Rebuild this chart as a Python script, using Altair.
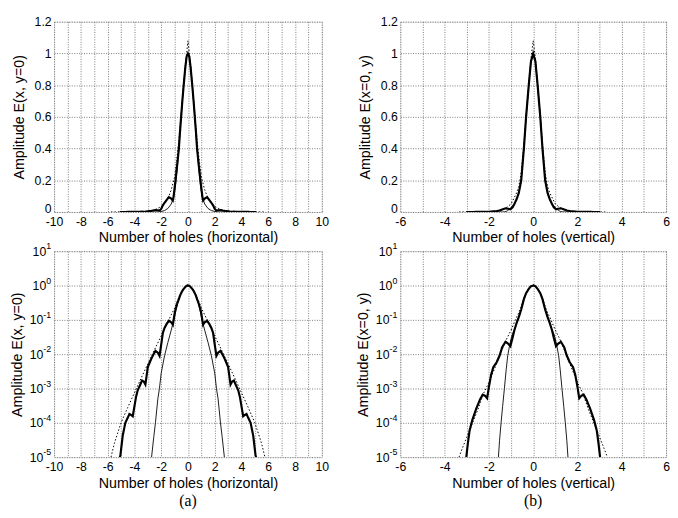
import altair as alt
import pandas as pd

SANS = "Liberation Sans"
SERIF = "Liberation Serif"

# ---------------- panel (a): horizontal cut ----------------
a_thick_x = [-5.1, -5.05, -4.875, -4.68, -4.5, -4.375, -4.25, -4.125, -3.875, -3.75, -3.6, -3.43, -3.3, -3.18,
             -3.0, -2.75, -2.6, -2.43, -2.25, -2.125, -2.0, -1.875, -1.75, -1.6, -1.43, -1.25, -1.13, -1.07,
             -1.0, -0.93, -0.8, -0.68, -0.6, -0.51, -0.42, -0.32, -0.2, -0.1, 0, 0.1, 0.2, 0.32, 0.42, 0.51,
             0.6, 0.68, 0.8, 0.93, 1.0, 1.07, 1.13, 1.25, 1.43, 1.6, 1.75, 1.875, 2.0, 2.125, 2.25, 2.43, 2.6,
             2.75, 3.0, 3.18, 3.3, 3.43, 3.6, 3.75, 3.875, 4.125, 4.25, 4.375, 4.5, 4.68, 4.875, 5.05, 5.1]
a_thick_y = [0.00001, 0.000011, 0.000042, 0.0001, 0.00014, 0.00018, 0.00017, 0.000155, 0.00058, 0.0009, 0.0012,
             0.0017, 0.0016, 0.0013, 0.0042, 0.0072, 0.0095, 0.0125, 0.011, 0.0089, 0.019, 0.042, 0.058, 0.075,
             0.094, 0.085, 0.072, 0.1, 0.15, 0.2, 0.3, 0.4, 0.5, 0.6, 0.7, 0.8, 0.91, 0.98, 1.0, 0.98, 0.91, 0.8,
             0.7, 0.6, 0.5, 0.4, 0.3, 0.2, 0.15, 0.1, 0.072, 0.085, 0.094, 0.075, 0.058, 0.042, 0.019, 0.0089,
             0.011, 0.0125, 0.0095, 0.0072, 0.0042, 0.0013, 0.0016, 0.0017, 0.0012, 0.0009, 0.00058, 0.000155,
             0.00017, 0.00018, 0.00014, 0.0001, 0.000042, 0.000011, 0.00001]

a_thin_x = [-2.72, -2.55, -2.43, -2.25, -2.13, -2.0, -1.75, -1.5, -1.25, -1.05, -0.93, -0.8, -0.68, -0.51, -0.32,
            -0.2, -0.1, 0, 0.1, 0.2, 0.32, 0.51, 0.68, 0.8, 0.93, 1.05, 1.25, 1.5, 1.75, 2.0, 2.13, 2.25, 2.43,
            2.55, 2.72]
a_thin_y = [0.00001, 0.00004, 0.0001, 0.0005, 0.001, 0.0028, 0.009, 0.022, 0.05, 0.1, 0.17, 0.28, 0.4, 0.6, 0.8,
            0.91, 0.98, 1.0, 0.98, 0.91, 0.8, 0.6, 0.4, 0.28, 0.17, 0.1, 0.05, 0.022, 0.009, 0.0028, 0.001,
            0.0005, 0.0001, 0.00004, 0.00001]

a_dot_x = [-5.75, -5.5, -5.0, -4.5, -4.0, -3.5, -3.0, -2.5, -2.0, -1.75, -1.43, -1.25, -1.0, -0.85, -0.68, -0.51,
           -0.32, -0.2, -0.1, 0, 0.1, 0.2, 0.32, 0.51, 0.68, 0.85, 1.0, 1.25, 1.43, 1.75, 2.0, 2.5, 3.0, 3.5, 4.0,
           4.5, 5.0, 5.5, 5.75]
a_dot_y = [0.00001, 0.000025, 0.0001, 0.00028, 0.00075, 0.002, 0.0052, 0.0135, 0.034, 0.055, 0.1, 0.14, 0.22,
           0.32, 0.45, 0.62, 0.81, 0.92, 1.0, 1.08, 1.0, 0.92, 0.81, 0.62, 0.45, 0.32, 0.22, 0.14, 0.1, 0.055,
           0.034, 0.0135, 0.0052, 0.002, 0.00075, 0.00028, 0.0001, 0.000025, 0.00001]

# ---------------- panel (b): vertical cut ----------------
b_thick_x = [-3.02, -2.95, -2.87, -2.75, -2.57, -2.4, -2.28, -2.18, -2.08, -2.0, -1.9, -1.8, -1.65, -1.52, -1.4,
             -1.25, -1.12, -1.03, -0.93, -0.85, -0.75, -0.65, -0.54, -0.42, -0.32, -0.2, -0.1, 0, 0.1, 0.2, 0.32,
             0.42, 0.54, 0.65, 0.75, 0.85, 0.93, 1.03, 1.12, 1.25, 1.4, 1.52, 1.65, 1.8, 1.9, 2.0, 2.08, 2.18,
             2.28, 2.4, 2.57, 2.75, 2.87, 2.95, 3.02]
b_thick_y = [0.00001, 0.000025, 0.00006, 0.00012, 0.00026, 0.00048, 0.00066, 0.00062, 0.00052, 0.0011, 0.0025,
             0.0042, 0.0058, 0.009, 0.016, 0.023, 0.02, 0.017, 0.03, 0.05, 0.08, 0.12, 0.2, 0.4, 0.6, 0.8, 0.95,
             1.0, 0.95, 0.8, 0.6, 0.4, 0.2, 0.12, 0.08, 0.05, 0.03, 0.017, 0.02, 0.023, 0.016, 0.009, 0.0058,
             0.0042, 0.0025, 0.0011, 0.00052, 0.00062, 0.00066, 0.00048, 0.00026, 0.00012, 0.00006, 0.000025,
             0.00001]

b_thin_x = [-1.57, -1.52, -1.45, -1.38, -1.3, -1.22, -1.15, -1.08, -1.0, -0.93, -0.85, -0.75, -0.65, -0.54, -0.42,
            -0.32, -0.2, -0.1, 0, 0.1, 0.2, 0.32, 0.42, 0.54, 0.65, 0.75, 0.85, 0.93, 1.0, 1.08, 1.15, 1.22, 1.3,
            1.38, 1.45, 1.52, 1.57]
b_thin_y = [0.00001, 0.00003, 0.0001, 0.0003, 0.001, 0.0035, 0.009, 0.016, 0.028, 0.04, 0.05, 0.08, 0.12, 0.2,
            0.4, 0.6, 0.8, 0.95, 1.0, 0.95, 0.8, 0.6, 0.4, 0.2, 0.12, 0.08, 0.05, 0.04, 0.028, 0.016, 0.009,
            0.0035, 0.001, 0.0003, 0.0001, 0.00003, 0.00001]

b_dot_x = [-3.35, -3.2, -3.0, -2.75, -2.5, -2.25, -2.0, -1.75, -1.5, -1.25, -1.0, -0.75, -0.65, -0.54, -0.42,
           -0.32, -0.2, -0.1, 0, 0.1, 0.2, 0.32, 0.42, 0.54, 0.65, 0.75, 1.0, 1.25, 1.5, 1.75, 2.0, 2.25, 2.5,
           2.75, 3.0, 3.2, 3.35]
b_dot_y = [0.00001, 0.000018, 0.000038, 0.000095, 0.00024, 0.0007, 0.0015, 0.0037, 0.0092, 0.024, 0.05, 0.12,
           0.16, 0.25, 0.43, 0.61, 0.8, 0.97, 1.08, 0.97, 0.8, 0.61, 0.43, 0.25, 0.16, 0.12, 0.05, 0.024, 0.0092,
           0.0037, 0.0015, 0.0007, 0.00024, 0.000095, 0.000038, 0.000018, 0.00001]

# ---------------- ticks / labels ----------------
lin_ticks = [0, 0.2, 0.4, 0.6, 0.8, 1, 1.2]
log_ticks = [1e-5, 1e-4, 1e-3, 1e-2, 1e-1, 1, 10]
log_exponents = ["-5", "-4", "-3", "-2", "-1", "0", "1"]
a_x_ticks = list(range(-10, 11))
b_x_ticks = list(range(-6, 7))

a_xtitle = "Number of holes (horizontal)"
b_xtitle = "Number of holes (vertical)"
a_ytitle = "Amplitude E(x, y=0)"
b_ytitle = "Amplitude E(x=0, y)"

GRID = dict(grid=True, gridDash=[1, 1.5], gridColor="#5a5a5a", gridWidth=0.8, ticks=False, domain=False,
            labelFont=SANS, labelColor="black", titleFont=SANS, titleFontSize=14.5,
            titleFontWeight="normal", titleColor="black", labelFlush=False, labelOverlap=False)

x_label_expr = "datum.value % 2 == 0 ? '' + datum.value : ''"
lin_label_expr = "'' + datum.value"
EXP_SIZE = 9
EXP_GAP = 3


def panel(curves, xdom, xticks, ylog, xtitle, ytitle, w, h, caption=None):
    frames = []
    for name, (xs, ys) in curves.items():
        frames.append(pd.DataFrame({"x": xs, "y": ys, "curve": name}))
    df = pd.concat(frames, ignore_index=True)

    xscale = alt.Scale(domain=xdom, nice=False, zero=False)
    xaxis = alt.Axis(values=xticks, labelExpr=x_label_expr, title=xtitle, labelPadding=4,
                     titlePadding=3, labelFontSize=12.5, **GRID)
    if ylog:
        yscale = alt.Scale(type="log", domain=[1e-5, 10], nice=False)
        yaxis = alt.Axis(values=log_ticks, labelExpr="'10'", title=ytitle,
                         labelPadding={"condition": {"test": "datum.value >= 1", "value": EXP_GAP + 5.5},
                                       "value": EXP_GAP + 8.5},
                         titlePadding=5, labelFontSize=12.5, **GRID)
    else:
        yscale = alt.Scale(domain=[0, 1.2], nice=False, zero=False)
        yaxis = alt.Axis(values=lin_ticks, labelExpr=lin_label_expr, title=ytitle, labelPadding=3,
                         labelOffset={"condition": {"test": "datum.value == 0", "value": -3}, "value": 0},
                         titlePadding=8, labelFontSize=12.5, **GRID)

    base = alt.Chart(df).encode(
        x=alt.X("x:Q", scale=xscale, axis=xaxis),
        y=alt.Y("y:Q", scale=yscale, axis=yaxis),
        order=alt.Order("x:Q"),
    )
    dotted = base.transform_filter(alt.datum.curve == "dotted").mark_line(
        color="black", strokeWidth=1.0, strokeDash=[1.5, 2], clip=True)
    thin = base.transform_filter(alt.datum.curve == "thin").mark_line(
        color="black", strokeWidth=0.9, clip=True)
    thick = base.transform_filter(alt.datum.curve == "thick").mark_line(
        color="black", strokeWidth=2.2, clip=True)
    layers = [dotted, thin, thick]
    if ylog:
        exp_df = pd.DataFrame({"v": log_ticks, "e": log_exponents})
        exps = alt.Chart(exp_df).mark_text(
            align="right", baseline="middle", font=SANS, fontSize=EXP_SIZE, dy=-5, color="black"
        ).encode(
            x=alt.value(-EXP_GAP),
            y=alt.Y("v:Q", scale=yscale, axis=yaxis),
            text="e:N",
        )
        layers.append(exps)
    props = dict(width=w, height=h)
    if caption:
        props["title"] = alt.TitleParams(caption, orient="bottom", font=SERIF, fontSize=16,
                                         fontWeight="normal", color="black", offset=4)
    return alt.layer(*layers).properties(**props)


a_curves = {"dotted": (a_dot_x, a_dot_y), "thin": (a_thin_x, a_thin_y), "thick": (a_thick_x, a_thick_y)}
b_curves = {"dotted": (b_dot_x, b_dot_y), "thin": (b_thin_x, b_thin_y), "thick": (b_thick_x, b_thick_y)}

tl = panel(a_curves, [-10, 10], a_x_ticks, False, a_xtitle, a_ytitle, 273, 194)
tr = panel(b_curves, [-6, 6], b_x_ticks, False, b_xtitle, b_ytitle, 271, 194)
bl = panel(a_curves, [-10, 10], a_x_ticks, True, a_xtitle, a_ytitle, 273, 210, "(a)")
br = panel(b_curves, [-6, 6], b_x_ticks, True, b_xtitle, b_ytitle, 271, 210, "(b)")

chart = alt.concat(
    tl, tr, bl, br, columns=2, spacing={"row": 40, "column": 80}, bounds="flush"
).properties(
    padding={"left": 1, "top": 2, "right": 0, "bottom": 0}
).configure_view(
    stroke="black", strokeWidth=1
).configure(background="white")

chart.save("out.html", embed_options={"renderer": "svg", "actions": False})
